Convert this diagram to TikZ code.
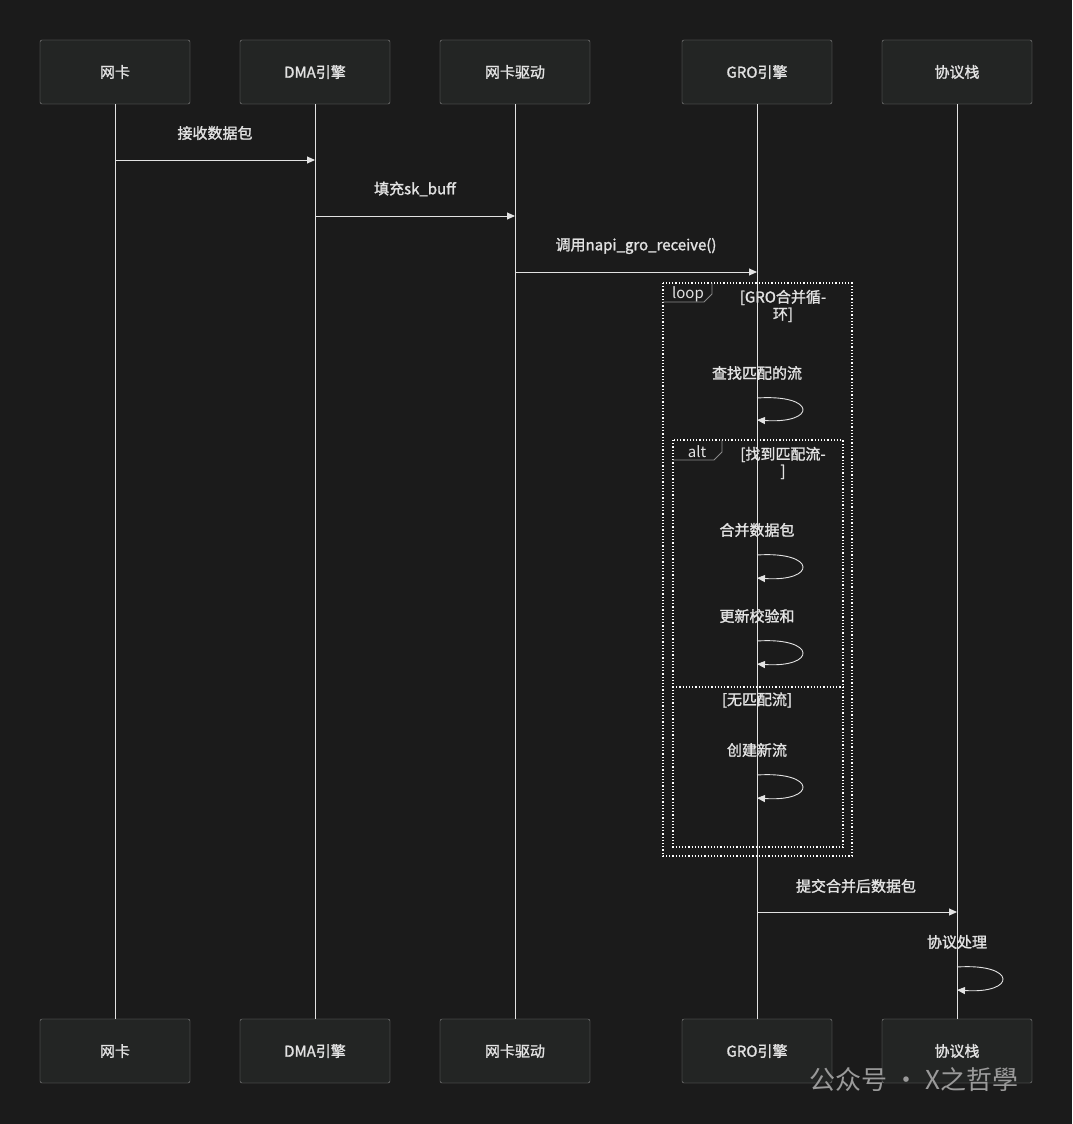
\documentclass[tikz,border=0pt]{standalone}
\usepackage{fontspec}
\setmainfont{Noto Sans CJK SC}[AutoFakeBold=1.5]
\usetikzlibrary{positioning,arrows.meta}
\definecolor{bg}{HTML}{1B1B1B}
\definecolor{boxfill}{HTML}{232524}
\definecolor{boxline}{HTML}{8A8A8A}
\definecolor{txt}{HTML}{E2E2E2}
\definecolor{wm}{HTML}{9A9A9A}
\begin{document}
\begin{tikzpicture}[x=1pt,y=-1pt,>={Triangle[length=8pt,width=7pt]},
    actor/.style={rectangle,draw=boxline,fill=boxfill,rounded corners=2pt,
                  minimum width=150pt,minimum height=64pt,text=txt,font=\fontsize{15}{17}\selectfont\bfseries},
    lbl/.style={text=txt,font=\fontsize{15}{17}\selectfont\bfseries},
    life/.style={draw=txt,line width=0.9pt},
    msg/.style={draw=txt,line width=0.9pt,->},
    frame/.style={draw=white,dotted,line width=1.2pt}]
% background
\fill[bg] (0,0) rectangle (1072,1124);
\useasboundingbox (0,0) rectangle (1072,1124);
% participants
\node [actor] (nic)  at (115,72)  {网卡};
\node [actor] (dma)  at (315,72)  {DMA引擎};
\node [actor] (drv)  at (515,72)  {网卡驱动};
\node [actor] (gro)  at (757,72)  {GRO引擎};
\node [actor] (stk)  at (957,72)  {协议栈};
\node [actor] (nicb) at (115,1051) {网卡};
\node [actor] (dmab) at (315,1051) {DMA引擎};
\node [actor] (drvb) at (515,1051) {网卡驱动};
\node [actor] (grob) at (757,1051) {GRO引擎};
\node [actor] (stkb) at (957,1051) {协议栈};
% lifelines
\draw [life] (nic) -- (nicb);
\draw [life] (dma) -- (dmab);
\draw [life] (drv) -- (drvb);
\draw [life] (gro) -- (grob);
\draw [life] (stk) -- (stkb);
% loop / alt frames
\draw [frame] (663,283) rectangle (852,856);
\draw [frame] (673,440) rectangle (843,847);
\draw [frame] (673,687) -- (843,687);
\draw [boxline,line width=0.9pt] (663,302) -- (704,302) -- (712,294) -- (712,283);
\draw [boxline,line width=0.9pt] (673,460) -- (714,460) -- (722,452) -- (722,440);
\node [lbl,font=\fontsize{15}{17}\selectfont] (looptag) at (688,294) {loop};
\node [lbl,font=\fontsize{15}{17}\selectfont] (alttag)  at (697,452) {alt};
\node [lbl,align=center] (loopcond) at (783,306) {[GRO合并循-\\环]};
\node [lbl,align=center] (altcond)  at (783,463) {[找到匹配流-\\]};
\node [lbl] (elsecond) at (757,700) {[无匹配流]};
% messages
\coordinate (m1a) at (115,160); \coordinate (m1b) at (315,160);
\coordinate (m2a) at (315,216); \coordinate (m2b) at (515,216);
\coordinate (m3a) at (515,272); \coordinate (m3b) at (757,272);
\coordinate (m4a) at (757,912); \coordinate (m4b) at (957,912);
\draw [msg] (m1a) -- (m1b);
\node [lbl] (l1) at (215,133) {接收数据包};
\draw [msg] (m2a) -- (m2b);
\node [lbl] (l2) at (415,189) {填充sk\_buff};
\draw [msg] (m3a) -- (m3b);
\node [lbl] (l3) at (636,246) {调用napi\_gro\_receive()};
\draw [msg] (m4a) -- (m4b);
\node [lbl] (l4) at (856,886) {提交合并后数据包};
% self messages
\coordinate (s1a) at (757,398); \coordinate (s1b) at (757,420);
\coordinate (s2a) at (757,555); \coordinate (s2b) at (757,578);
\coordinate (s3a) at (757,641); \coordinate (s3b) at (757,664);
\coordinate (s4a) at (757,775); \coordinate (s4b) at (757,798);
\coordinate (s5a) at (957,967); \coordinate (s5b) at (957,990);
\draw [msg] (s1a) .. controls +(60,-4) and +(60,4) .. (s1b);
\node [lbl] (t1) at (757,373) {查找匹配的流};
\draw [msg] (s2a) .. controls +(60,-4) and +(60,4) .. (s2b);
\node [lbl] (t2) at (757,530) {合并数据包};
\draw [msg] (s3a) .. controls +(60,-4) and +(60,4) .. (s3b);
\node [lbl] (t3) at (757,616) {更新校验和};
\draw [msg] (s4a) .. controls +(60,-4) and +(60,4) .. (s4b);
\node [lbl] (t4) at (757,750) {创建新流};
\draw [msg] (s5a) .. controls +(60,-4) and +(60,4) .. (s5b);
\node [lbl] (t5) at (957,942) {协议处理};
% watermark
\node [text=wm,font=\fontsize{26}{28}\selectfont,anchor=west] (wmark) at (806,1080) {公众号 · X之哲學};
\end{tikzpicture}
\end{document}
